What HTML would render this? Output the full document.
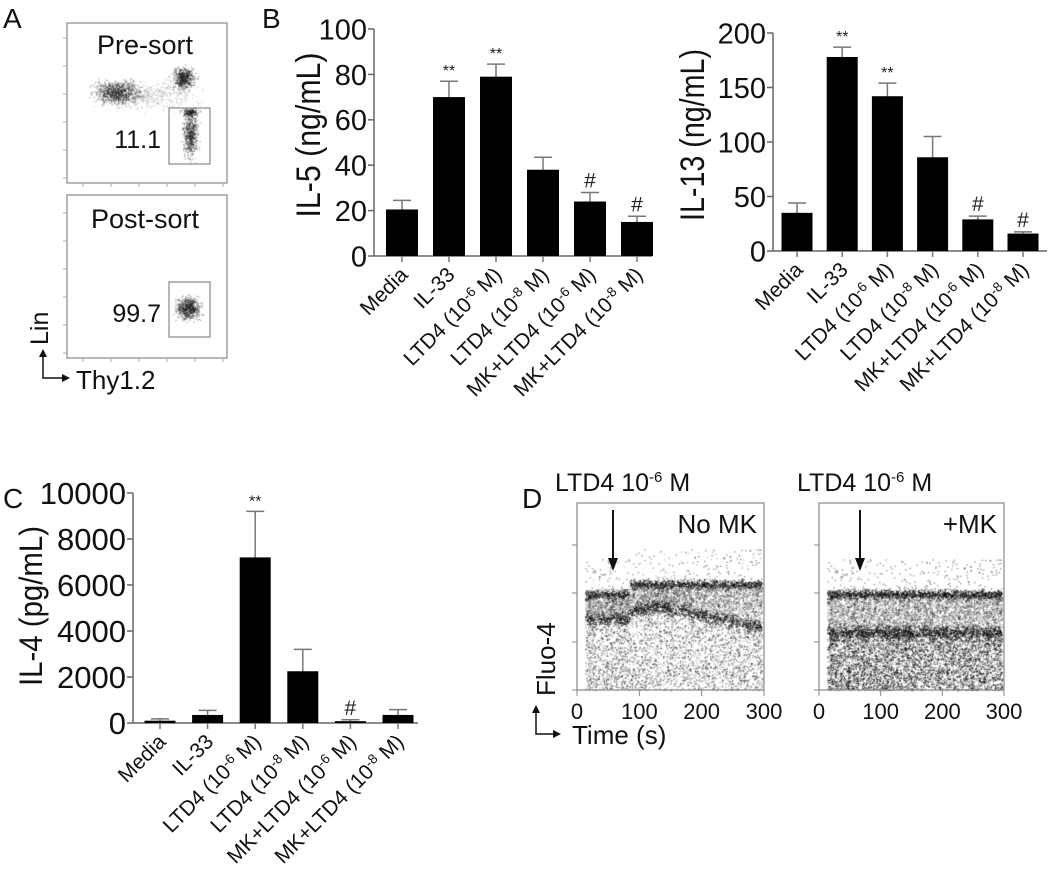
<!DOCTYPE html>
<html><head><meta charset="utf-8"><style>
html,body{margin:0;padding:0;background:#fff;}
#root{position:relative;width:1050px;height:882px;overflow:hidden;font-family:"Liberation Sans",Arial,sans-serif;}
svg{position:absolute;left:0;top:0;}
canvas{position:absolute;left:0;top:0;}
</style></head><body>
<div id="root">
<canvas id="cv" width="1050" height="882"></canvas>
<svg id="sv" width="1050" height="882" viewBox="0 0 1050 882"></svg>
</div>
<script>
// ---- data ----
const categories = ["Media","IL-33","LTD4 (10^-6 M)","LTD4 (10^-8 M)","MK+LTD4 (10^-6 M)","MK+LTD4 (10^-8 M)"];
const il5Values = [20.5,70,79,38,24,15];
const il5Errors = [4,7,5.5,5.5,4,2.5];
const il5Marks = ["","**","**","","#","#"];
const il5Ticks = [0,20,40,60,80,100];
const il13Values = [35,178,142,86,29,16];
const il13Errors = [9,9,12,19,3,1.5];
const il13Marks = ["","**","**","","#","#"];
const il13Ticks = [0,50,100,150,200];
const il4Values = [100,350,7200,2250,80,350];
const il4Errors = [80,200,2000,950,60,230];
const il4Marks = ["","","**","","#",""];
const il4Ticks = [0,2000,4000,6000,8000,10000];
const timeTicks = [0,100,200,300];

const NS="http://www.w3.org/2000/svg";
const sv=document.getElementById('sv');
function el(tag,attrs,parent){const e=document.createElementNS(NS,tag);for(const k in attrs)e.setAttribute(k,attrs[k]);(parent||sv).appendChild(e);return e;}
function txt(s,attrs,parent){const t=el('text',attrs,parent);t.textContent=s;return t;}

function catLabel(g,label,x,y,fs){
  const t=el('text',{x:x,y:y,'font-size':fs,'text-anchor':'end',transform:`rotate(-45 ${x} ${y})`,fill:'#111'},g);
  
  
  const m=label.match(/^(.*)\(10\^(-\d) M\)$/);
  if(m){
    const a=document.createElementNS(NS,'tspan');a.textContent=m[1]+"(10";t.appendChild(a);
    const b=document.createElementNS(NS,'tspan');b.textContent=m[2];b.setAttribute('dy','-7');b.setAttribute('font-size',fs*0.65);t.appendChild(b);
    const c=document.createElementNS(NS,'tspan');c.textContent=" M)";c.setAttribute('dy','7');t.appendChild(c);
  } else t.textContent=label;
}

function barChart(o){
  const g=el('g',{});
  
  
  const yS=v=>o.y0-(v/o.max)*(o.y0-o.yTop);
  const xS=i=>o.x1+o.step*i;
  const ya=el('line',{x1:o.ax,y1:o.yTop,x2:o.ax,y2:o.y0,stroke:'#666','stroke-width':1.5},g);
  
  const xa=el('line',{x1:o.ax,y1:o.y0,x2:o.xEnd,y2:o.y0,stroke:'#666','stroke-width':1.5},g);
  
  o.ticks.forEach(t=>{
    const y=yS(t);
    el('line',{x1:o.ax-6,y1:y,x2:o.ax,y2:y,stroke:'#666','stroke-width':1.5},g);
    const tl=txt(String(t),{x:o.ax-7,y:y+o.tfs*0.36,'font-size':o.tfs,'text-anchor':'end',fill:'#111'},g);
    
  });
  const ti=txt(o.title,{x:0,y:0,'font-size':o.titfs,'text-anchor':'middle',textLength:o.titLen,lengthAdjust:'spacingAndGlyphs',fill:'#111',transform:`translate(${o.titleX} ${o.titleY}) rotate(-90)`},g);
  
  o.values.forEach((v,i)=>{
    const cx=xS(i);
    const top=yS(v+o.errors[i]);
    const eb=el('line',{x1:cx,y1:top,x2:cx,y2:o.y0+6,stroke:'#777','stroke-width':1.5},g);
    
    el('line',{x1:cx-9,y1:top,x2:cx+9,y2:top,stroke:'#777','stroke-width':1.5},g);
    const r=el('rect',{x:cx-o.bw/2,y:yS(v),width:o.bw,height:o.y0-yS(v),fill:'#000'},g);
    
    if(o.marks[i]){
      const m=txt(o.marks[i],{x:cx,y:top-5,'font-size':o.marks[i]=='#'?21:16,'text-anchor':'middle',fill:'#222'},g);
      
    }
    catLabel(g,categories[i],cx+7,o.y0+20,o.cfs);
  });
}

barChart({name:'il5-chart',ax:374,yTop:29,y0:256,max:100,x1:402,step:47,bw:32,xEnd:652,ticks:il5Ticks,values:il5Values,errors:il5Errors,marks:il5Marks,title:'IL-5 (ng/mL)',titleX:320,titleY:135,titfs:34,titLen:165,tfs:29,cfs:21});
barChart({name:'il13-chart',ax:773,yTop:33,y0:251,max:200,x1:797,step:45.2,bw:31,xEnd:1047,ticks:il13Ticks,values:il13Values,errors:il13Errors,marks:il13Marks,title:'IL-13 (ng/mL)',titleX:704,titleY:135,titfs:34,titLen:172,tfs:29,cfs:21});
barChart({name:'il4-chart',ax:133,yTop:493,y0:723,max:10000,x1:160,step:47.6,bw:31,xEnd:418,ticks:il4Ticks,values:il4Values,errors:il4Errors,marks:il4Marks,title:'IL-4 (pg/mL)',titleX:42,titleY:606,titfs:32,titLen:160,tfs:31,cfs:21});

[["A",3,28],["B",262,28],["C",3,508],["D",522,508]].forEach(p=>{
  const t=txt(p[0],{x:p[1],y:p[2],'font-size':28,fill:'#111'});
  
});

// ---- Panel A ----
function box(x,y,w,h,name){const r=el('rect',{x:x,y:y,width:w,height:h,fill:'none',stroke:'#888','stroke-width':1.2});return r;}
box(67,23,160,160,'presort-plot');
box(67,195,160,163,'postsort-plot');
box(169,108,41,56,'presort-gate');
box(169,282,41,55,'postsort-gate');
[[145,54,'Pre-sort'],[145,228,'Post-sort']].forEach(a=>{const t=txt(a[2],{x:a[0],y:a[1],'font-size':27,'text-anchor':'middle',fill:'#111'});});
[[161,148,'11.1'],[161,322,'99.7']].forEach(a=>{const t=txt(a[2],{x:a[0],y:a[1],'font-size':25,'text-anchor':'end',fill:'#111'});});
for(let i=0;i<6;i++){el('line',{x1:63,y1:38+i*28,x2:67,y2:38+i*28,stroke:'#aaa'});el('line',{x1:63,y1:213+i*28,x2:67,y2:213+i*28,stroke:'#aaa'});el('line',{x1:83+i*28,y1:183,x2:83+i*28,y2:187,stroke:'#aaa'});el('line',{x1:83+i*28,y1:358,x2:83+i*28,y2:362,stroke:'#aaa'});}
el('path',{d:'M43 357 L43 378 L62 378',fill:'none',stroke:'#111','stroke-width':1.5});
el('path',{d:'M39 357 L43 349 L47 357 Z',fill:'#111'});
el('path',{d:'M62 374 L70 378 L62 382 Z',fill:'#111'});
{const t=txt('Lin',{x:0,y:0,'font-size':25,fill:'#111',transform:'translate(48 345) rotate(-90)'});}
{const t=txt('Thy1.2',{x:76,y:389,'font-size':26,fill:'#111'});}

// ---- Panel D ----
const dPlots=[{x0:577,x1:764,title:'No MK',ax:613,name:'no-mk-plot'},{x0:819,x1:1004,title:'+MK',ax:860,name:'mk-plot'}];
dPlots.forEach((p,k)=>{
  box(p.x0,503,p.x1-p.x0,187,p.name);
  [545,593,642,690].forEach(y=>el('line',{x1:p.x0-5,y1:y,x2:p.x0,y2:y,stroke:'#888'}));
  const xs=v=>p.x0+(v/300)*(p.x1-p.x0);
  timeTicks.forEach(v=>{
    el('line',{x1:xs(v),y1:690,x2:xs(v),y2:696,stroke:'#888'});
    const t=txt(String(v),{x:xs(v),y:719,'font-size':22,'text-anchor':'middle',fill:'#111'});
    
  });
  const tt=el('text',{x:p.x0-22,y:491,'font-size':25,fill:'#111'});
  
  tt.innerHTML='LTD4 10<tspan dy="-9" font-size="15">-6</tspan><tspan dy="9"> M</tspan>';
  const c=txt(p.title,{x:p.x1-7,y:533,'font-size':26,'text-anchor':'end',fill:'#111'});
  
  const ar=el('line',{x1:p.ax,y1:510,x2:p.ax,y2:562,stroke:'#111','stroke-width':2});
  
  el('path',{d:`M${p.ax-5} 558 L${p.ax} 571 L${p.ax+5} 558 Z`,fill:'#111'});
});
{const t=txt('Fluo-4',{x:0,y:0,'font-size':26,fill:'#111',transform:'translate(555 696) rotate(-90)'});}
el('path',{d:'M536 713 L536 734 L553 734',fill:'none',stroke:'#111','stroke-width':1.5});
el('path',{d:'M532 713 L536 705 L540 713 Z',fill:'#111'});
el('path',{d:'M553 730 L561 734 L553 738 Z',fill:'#111'});
{const t=txt('Time (s)',{x:572,y:744,'font-size':26,fill:'#111'});}

// ---- scatter textures (canvas) ----
const cv=document.getElementById('cv').getContext('2d');
let seed=12345;function rnd(){seed=(seed*1103515245+12345)&0x7fffffff;return seed/0x7fffffff;}
function gauss(){return (rnd()+rnd()+rnd()+rnd()-2)/1.2;}
function dot(x,y,a){cv.fillStyle=`rgba(0,0,0,${a})`;cv.fillRect(x,y,1.3,1.3);}
function blob(cx,cy,sx,sy,n,a){for(let i=0;i<n;i++)dot(cx+gauss()*sx,cy+gauss()*sy,a);}
blob(117,92,22,11,900,0.3);blob(183,78,11,11,500,0.35);blob(190,135,7,22,600,0.3);blob(150,95,45,14,500,0.15);blob(190,112,8,4,150,0.4);
blob(188,308,12,11,600,0.35);
function band(x0,x1,top,bot,n,lowA,lowN){
  for(let i=0;i<n;i++){const x=x0+rnd()*(x1-x0);const f=(x-x0)/(x1-x0);
    const t=top(f),b=bot(f);const r=rnd();
    if(r<0.15){dot(x,t+gauss()*5,0.35);}
    else if(r<0.30){dot(x,b+gauss()*7,0.35);}
    else if(r<0.82){dot(x,t+rnd()*(b-t),0.16);}
    else if(r<0.85){dot(x,t-rnd()*35,0.25);}
    else {dot(x,b+rnd()*(690-b),lowA);}
  }
  for(let i=0;i<lowN;i++){const x=x0+rnd()*(x1-x0);const f=(x-x0)/(x1-x0);const b=bot(f);dot(x,b+rnd()*(690-b),lowA);}
}
band(585,762,f=>f<0.25?594:584,f=>f<0.25?619:(f<0.4?612-(f-0.25)*40:606+(f-0.4)*35),14000,0.3,2000);
band(827,1002,f=>594,f=>632,16000,0.4,4000);
</script>
</body></html>
